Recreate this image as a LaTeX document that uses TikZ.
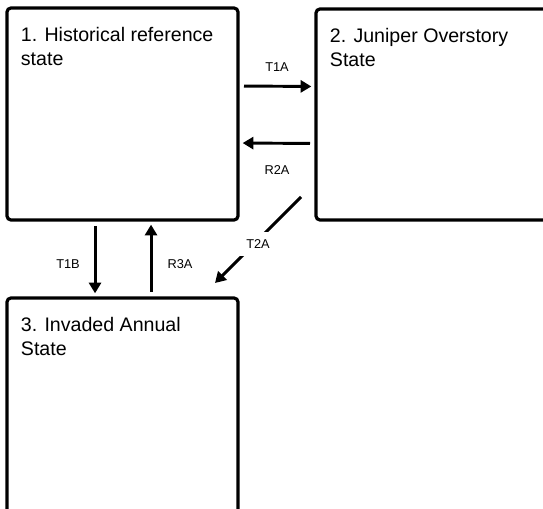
\documentclass[tikz,border=0pt]{standalone}
\usepackage{fontspec}
\setmainfont{Liberation Sans}
\usetikzlibrary{arrows.meta,positioning}

\begin{document}
\begin{tikzpicture}[
  x=0.75pt, y=-0.75pt,
  node distance=14pt and 10.25pt,
  statebox/.style={draw, line width=2.4pt, rectangle, rounded corners=3pt, inner sep=0pt, outer sep=0pt, minimum width=173.25pt},
  statetext/.style={font=\fontsize{14.7}{18.4}\selectfont, align=left, inner sep=0pt},
  lab/.style={font=\fontsize{9.6}{11}\selectfont, inner sep=1pt},
  arr/.style={-{Triangle[length=8pt,width=9pt]}, line width=2.2pt, shorten <=4.5pt, shorten >=3.5pt}
]
\useasboundingbox (0,0) rectangle (543,509);
\clip (0,0) rectangle (543,509);
% state boxes
\node[statebox, minimum height=159pt] (s1) at (122.5,114) {};
\node[statebox, minimum width=183pt, minimum height=158.25pt] (s2) at (438,114.5) {};
\node[statebox, minimum height=166.5pt] (s3) at (122.5,409) {};
\node[statetext, below right=of s1.north west] (t1) {1. Historical reference\\state};
\node[statetext, below right=of s2.north west] (t2) {2. Juniper Overstory\\State};
\node[statetext, below right=of s3.north west] (t3) {3. Invaded Annual\\State};
% transitions
\draw[arr] ([yshift=21pt]s1.east) -- ([yshift=21pt]s2.west) node[lab, midway, yshift=14.25pt] (l1) {T1A};
\draw[arr] ([yshift=-21.75pt]s2.west) -- ([yshift=-21.75pt]s1.east) node[lab, midway, yshift=-20.25pt] (l2) {R2A};
\draw[arr] ([xshift=-20.6pt]s1.south) -- ([xshift=-20.6pt]s3.north) node[lab, midway, xshift=-20.25pt, yshift=-3.5pt] (l3) {T1B};
\draw[arr] ([xshift=21.4pt]s3.north) -- ([xshift=21.4pt]s1.south) node[lab, midway, xshift=21.75pt, yshift=-3.5pt] (l4) {R3A};
\draw[arr, shorten <=0pt, shorten >=0pt] ([shift={(-15,-23)}]s2.south west) -- ([shift={(-23,-15)}]s3.north east) node[lab, midway, fill=white, inner sep=6pt, yshift=-3pt] (l5) {T2A};
\end{tikzpicture}
\end{document}
